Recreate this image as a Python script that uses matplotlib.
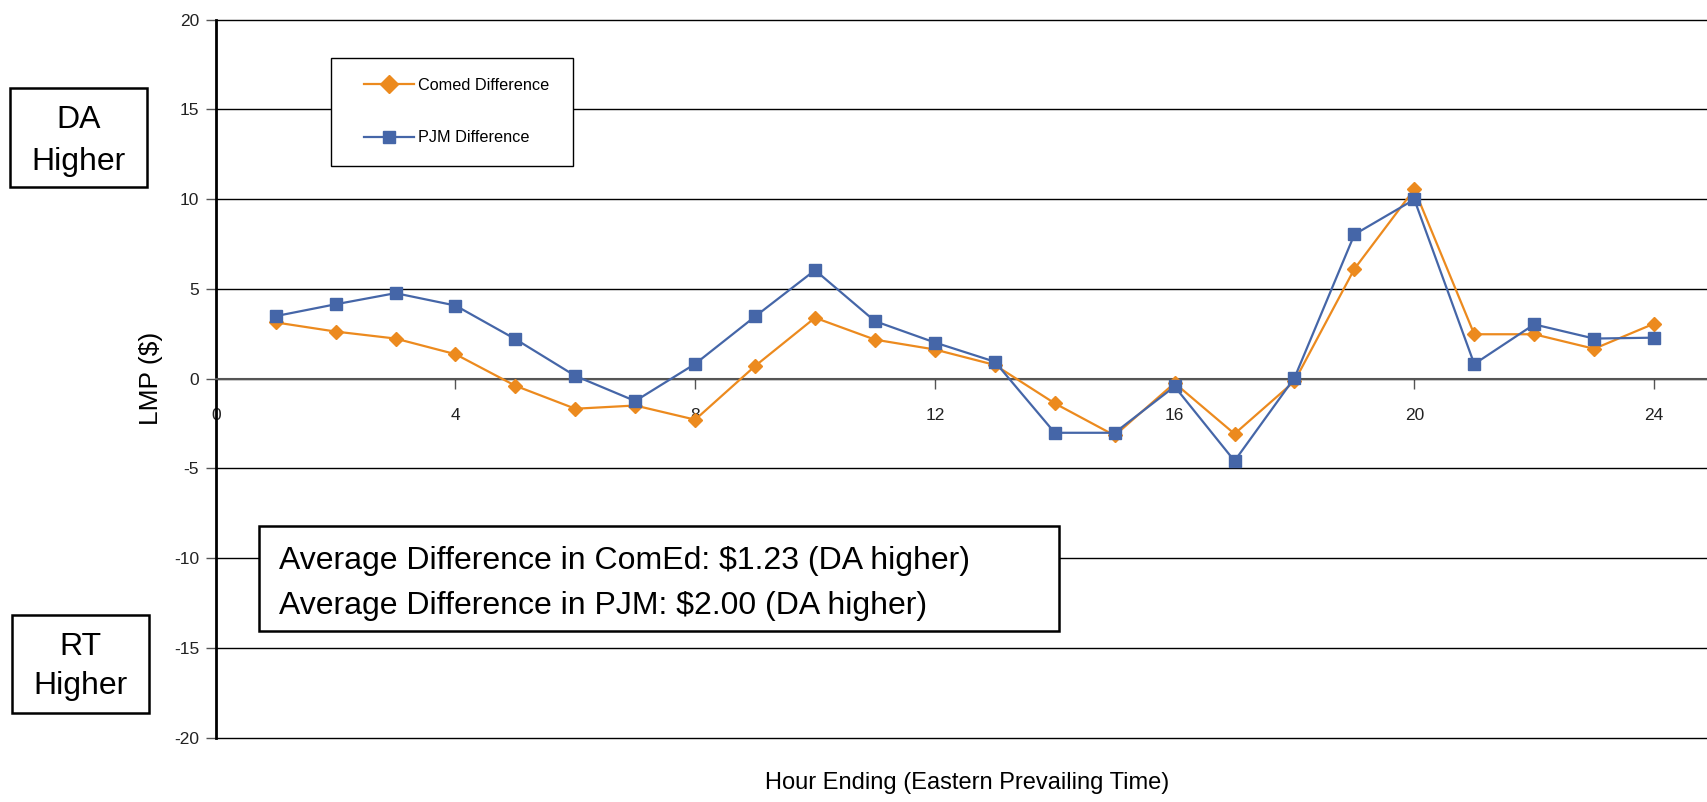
import matplotlib
matplotlib.use("Agg")
import matplotlib.pyplot as plt
from matplotlib import font_manager
from matplotlib.patches import Rectangle

# fonte parecida com Arial
names = {f.name for f in font_manager.fontManager.ttflist}
plt.rcParams["font.family"] = "Liberation Sans" if "Liberation Sans" in names else "DejaVu Sans"
plt.rcParams["axes.unicode_minus"] = False

# dados
hours = list(range(1, 25))
comed_diff = [3.13, 2.62, 2.23, 1.36, -0.40, -1.68, -1.50, -2.29, 0.70, 3.39,
              2.17, 1.62, 0.76, -1.38, -3.17, -0.25, -3.08, -0.15, 6.11, 10.55,
              2.47, 2.47, 1.66, 3.06]
pjm_diff = [3.48, 4.14, 4.76, 4.07, 2.20, 0.15, -1.25, 0.82, 3.46, 6.04,
            3.20, 2.01, 0.94, -3.02, -3.02, -0.44, -4.59, 0.04, 8.03, 9.98,
            0.81, 3.02, 2.23, 2.28]
x_ticks = [0, 4, 8, 12, 16, 20, 24]
y_ticks = [-20, -15, -10, -5, 0, 5, 10, 15, 20]
avg_lines = ["Average Difference in ComEd: $1.23 (DA higher)",
             "Average Difference in PJM: $2.00 (DA higher)"]

orange = "#EC8A1E"
blue = "#4566A8"

W, H = 1708, 802
fig = plt.figure(figsize=(W / 100, H / 100), dpi=100)
ax = fig.add_axes([0.1263, 0.0804, 0.8737, 0.8951])

ax.plot(hours, comed_diff, color=orange, lw=1.6, marker="D", ms=7,
        mec=orange, mfc=orange, label="Comed Difference", zorder=3)
ax.plot(hours, pjm_diff, color=blue, lw=1.6, marker="s", ms=8,
        mec=blue, mfc=blue, label="PJM Difference", zorder=4)

ax.set_xlim(0, 24.9)
ax.set_ylim(-20, 20)
ax.set_xticks(x_ticks)
ax.set_yticks(y_ticks)

# eixos
for s in ("top", "right"):
    ax.spines[s].set_visible(False)
ax.spines["left"].set_linewidth(2)
ax.spines["left"].set_color("black")
ax.spines["bottom"].set_position(("data", 0))
ax.spines["bottom"].set_color("#555555")
ax.spines["bottom"].set_linewidth(1.5)
ax.yaxis.grid(True, color="black", lw=1)
for gl in ax.yaxis.get_gridlines():
    gl.set_clip_on(False)
ax.set_axisbelow(True)
ax.tick_params(axis="y", direction="out", length=7, width=1, color="#555555",
               labelsize=12.5, labelcolor="#222222", pad=5)
ax.tick_params(axis="x", direction="out", length=7, width=1, color="#555555",
               labelsize=12.5, labelcolor="#222222", pad=14)

ax.set_ylabel("LMP ($)", fontsize=19)
ax.yaxis.set_label_coords(-0.0353, 0.5)

fig.text(967 / W, 1 - 783 / H, "Hour Ending (Eastern Prevailing Time)",
         fontsize=17, ha="center", va="center")


def box(x0, y0, x1, y1, lw=1.8):
    """Retangulo em pixels da figura."""
    r = Rectangle((x0 / W, 1 - y1 / H), (x1 - x0) / W, (y1 - y0) / H,
                  transform=fig.transFigure, fill=True, fc="white",
                  ec="black", lw=lw, zorder=5)
    fig.add_artist(r)


def label(x, y, s, size=23, ha="center"):
    fig.text(x / W, 1 - y / H, s, fontsize=size, ha=ha, va="center", zorder=6)


# legenda (caixa desenhada a parte)
box(331, 58, 573, 166, lw=1)
handles, labels = ax.get_legend_handles_labels()
leg = fig.legend(handles, labels, loc="upper left",
                 bbox_to_anchor=(364 / W, 1 - 78 / H),
                 fontsize=11.7, handlelength=3.1, handletextpad=0.25,
                 labelspacing=2.3, borderpad=0, borderaxespad=0,
                 frameon=False)
leg.set_zorder(7)
for h in leg.legend_handles:
    h.set_markersize(9)

box(10, 88, 147, 187)
label(78.5, 119.5, "DA")
label(78.5, 162, "Higher")
box(12, 615, 149, 713)
label(80.5, 647, "RT")
label(80.5, 686, "Higher")

box(259, 526, 1059, 631)
label(279, 561, avg_lines[0], ha="left")
label(279, 606, avg_lines[1], ha="left")

fig.savefig("out.png", dpi=100)
